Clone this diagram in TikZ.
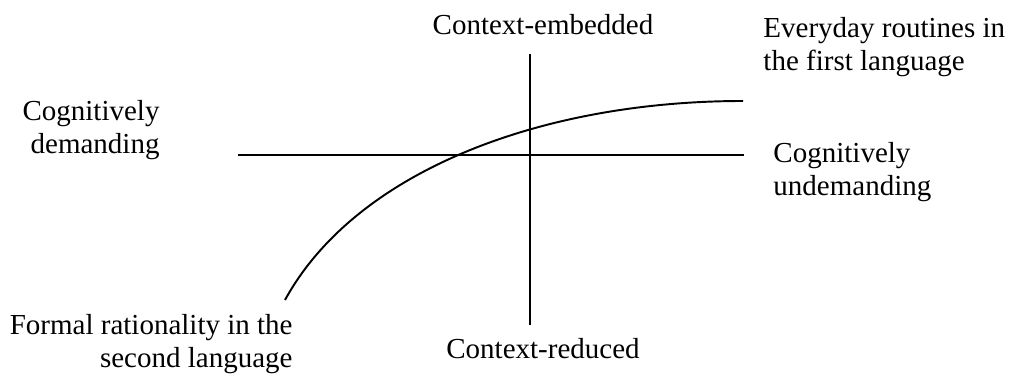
\documentclass[tikz,border=0pt]{standalone}
\usepackage{fontspec}
\setmainfont{Liberation Serif}
\usetikzlibrary{positioning}
\tikzset{
  lbl/.style={font=\fontsize{12}{13.7}\selectfont,inner sep=0pt},
  lblL/.style={lbl,align=left,anchor=base west},
  lblR/.style={lbl,align=right,anchor=base east},
  lblC/.style={lbl,align=center,anchor=base},
  ax/.style={line width=0.8pt},
}
\begin{document}
\begin{tikzpicture}[x=0.4138pt,y=-0.4138pt]
  \useasboundingbox (0,0) rectangle (1010,378);
  \coordinate (top) at (530,54);
  \coordinate (bot) at (530,325);
  \coordinate (lft) at (238,155);
  \coordinate (rgt) at (744,155);
  \coordinate (c0) at (285,300);
  \coordinate (c1) at (743,101);
  \node[lblC] (emb) at (543,35) {Context-embedded};
  \node[lblC] (red) at (543,359) {Context-reduced};
  \node[lblR] (dem) at (160,154) {Cognitively\\demanding};
  \node[lblL] (und) at (773,196) {Cognitively\\undemanding};
  \node[lblL] (first) at (763,71) {Everyday routines in\\the first language};
  \node[lblR] (second) at (293,368) {Formal rationality in the\\second language};
  \draw[ax] (top) -- (bot);
  \draw[ax] (lft) -- (rgt);
  \draw[ax] (c0) .. controls (355,172) and (540,101) .. (c1);
\end{tikzpicture}
\end{document}
